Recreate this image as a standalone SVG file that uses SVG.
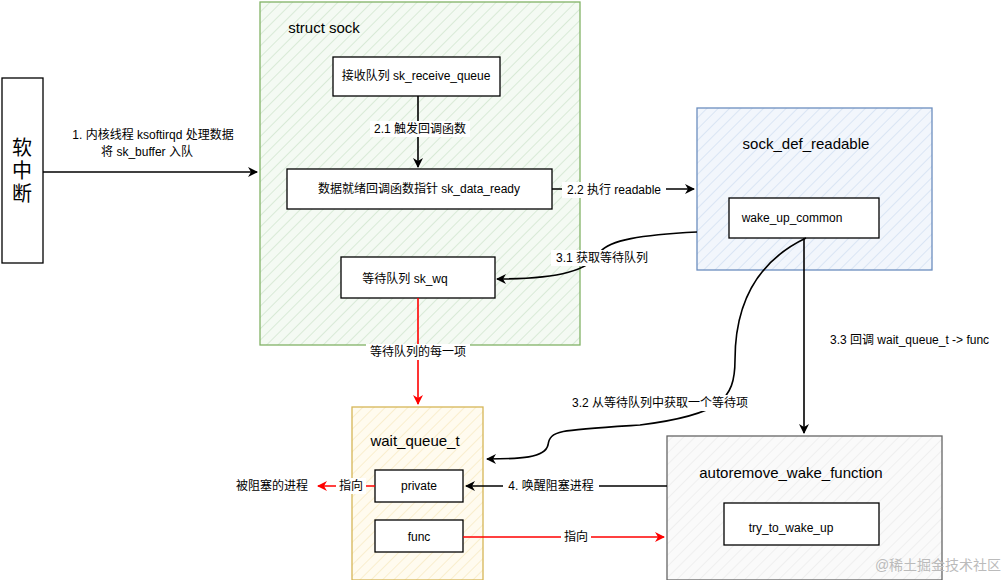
<svg xmlns="http://www.w3.org/2000/svg" width="1002" height="580" viewBox="0 0 1002 580">
<style>
text{font-family:"Liberation Sans","Noto Sans CJK SC",sans-serif;fill:#000;text-anchor:middle;dominant-baseline:central}
.s{font-size:12px}.t{font-size:15px}
.box{fill:#fff;stroke:#000;stroke-width:1.3}
.k{fill:none;stroke:#000;stroke-width:1.6}
.r{fill:none;stroke:#f00;stroke-width:1.6}
.lb{fill:#fff}
</style>
<defs>
<pattern id="hg" width="8" height="8" patternUnits="userSpaceOnUse" patternTransform="rotate(45)"><rect width="8" height="8" fill="#f4faf3"/><line x1="0" y1="0" x2="0" y2="8" stroke="#c8e0c4" stroke-width="1.2"/></pattern>
<pattern id="hb" width="8" height="8" patternUnits="userSpaceOnUse" patternTransform="rotate(45)"><rect width="8" height="8" fill="#f2f6fc"/><line x1="0" y1="0" x2="0" y2="8" stroke="#cbdaf0" stroke-width="1.2"/></pattern>
<pattern id="hy" width="8" height="8" patternUnits="userSpaceOnUse" patternTransform="rotate(45)"><rect width="8" height="8" fill="#fffbef"/><line x1="0" y1="0" x2="0" y2="8" stroke="#f5e6b8" stroke-width="1.2"/></pattern>
<pattern id="hw" width="8" height="8" patternUnits="userSpaceOnUse" patternTransform="rotate(45)"><rect width="8" height="8" fill="#fafafa"/><line x1="0" y1="0" x2="0" y2="8" stroke="#e8e8e8" stroke-width="1.2"/></pattern>
<marker id="ak" markerWidth="10" markerHeight="10" refX="9" refY="5" orient="auto" markerUnits="userSpaceOnUse"><path d="M0,0 L10,5 L0,10 L3,5 Z" fill="#000"/></marker>
<marker id="ar" markerWidth="10" markerHeight="10" refX="9" refY="5" orient="auto" markerUnits="userSpaceOnUse"><path d="M0,0 L10,5 L0,10 L3,5 Z" fill="#f00"/></marker>
</defs>
<rect width="1002" height="580" fill="#fff"/>
<g id="softirq"><rect class="box" x="2" y="78" width="41" height="185"/><text x="22" y="148" font-size="20">软</text><text x="22" y="171" font-size="20">中</text><text x="22" y="194" font-size="20">断</text></g>
<g id="struct_sock"><rect x="260" y="2" width="320" height="343" fill="url(#hg)" stroke="#82b366" stroke-width="1.3"/><text class="t" x="324" y="27">struct sock</text></g>
<g id="recv_queue"><rect class="box" x="333" y="57" width="167" height="39"/><text class="s" x="416" y="76">接收队列 sk_receive_queue</text></g>
<g id="data_ready"><rect class="box" x="287" y="169" width="265" height="40"/><text class="s" x="419" y="189">数据就绪回调函数指针 sk_data_ready</text></g>
<g id="sk_wq"><rect class="box" x="341" y="257" width="154" height="41"/><text class="s" x="405" y="279">等待队列 sk_wq</text></g>
<g id="sock_def_readable"><rect x="697" y="108" width="235" height="162" fill="url(#hb)" stroke="#6c8ebf" stroke-width="1.3"/><text class="t" x="806" y="143">sock_def_readable</text></g>
<g id="wake_up_common"><rect class="box" x="729" y="198" width="150" height="40"/><text class="s" x="792" y="218">wake_up_common</text></g>
<g id="wait_queue_t"><rect x="352" y="407" width="131" height="173" fill="url(#hy)" stroke="#d6b656" stroke-width="1.3"/><text class="t" x="415" y="440">wait_queue_t</text></g>
<g id="private"><rect class="box" x="375" y="470" width="88" height="32"/><text class="s" x="419" y="486">private</text></g>
<g id="func"><rect class="box" x="375" y="520" width="88" height="32"/><text class="s" x="419" y="537">func</text></g>
<g id="autoremove"><rect x="667" y="436" width="275" height="144" fill="url(#hw)" stroke="#666" stroke-width="1.3"/><text class="t" x="791" y="472">autoremove_wake_function</text></g>
<g id="try_to_wake_up"><rect class="box" x="724" y="503" width="155" height="42"/><text class="s" x="791" y="528">try_to_wake_up</text></g>
<g id="blocked"><text class="s" x="272" y="486">被阻塞的进程</text></g>
<g id="connectors">
<path class="k" d="M43,172 H257" marker-end="url(#ak)"/>
<text class="s" x="153" y="135">1. 内核线程 ksoftirqd 处理数据</text><text class="s" x="147" y="152">将 sk_buffer 入队</text>
<path class="k" d="M418,96 V167" marker-end="url(#ak)"/>
<rect class="lb" x="370" y="121" width="100" height="16"/><text class="s" x="420" y="129">2.1 触发回调函数</text>
<path class="k" d="M552,189 H694" marker-end="url(#ak)"/>
<rect class="lb" x="562" y="182" width="104" height="16"/><text class="s" x="614" y="190">2.2 执行 readable</text>
<path class="k" d="M697,232 C640,235 610,240 600,252 C590,270 560,279 497,279" marker-end="url(#ak)"/>
<rect class="lb" x="551" y="250" width="102" height="16"/><text class="s" x="602" y="258">3.1 获取等待队列</text>
<path class="r" d="M418,298 V404" marker-end="url(#ar)"/>
<rect class="lb" x="366" y="344" width="104" height="16"/><text class="s" x="418" y="352">等待队列的每一项</text>
<path class="k" d="M806,238 C760,260 735,300 735,360 C735,400 720,415 640,425 C560,430 550,430 548,445 C545,458 520,459 487,459" marker-end="url(#ak)"/>
<rect class="lb" x="563" y="395" width="194" height="16"/><text class="s" x="660" y="403">3.2 从等待队列中获取一个等待项</text>
<path class="k" d="M804,238 V433" marker-end="url(#ak)"/>
<text class="s" x="830" y="340" style="text-anchor:start">3.3 回调 wait_queue_t -&gt; func</text>
<path class="k" d="M667,486 H466" marker-end="url(#ak)"/>
<rect class="lb" x="503" y="478" width="96" height="16"/><text class="s" x="551" y="486">4. 唤醒阻塞进程</text>
<path class="r" d="M375,486 H318" marker-end="url(#ar)"/>
<rect class="lb" x="336" y="478" width="30" height="16"/><text class="s" x="351" y="486">指向</text>
<path class="r" d="M463,537 H664" marker-end="url(#ar)"/>
<rect class="lb" x="561" y="529" width="30" height="16"/><text class="s" x="576" y="537">指向</text>
</g>
<text x="938" y="565" font-size="14" fill="#bbb" style="fill:#bbb">@稀土掘金技术社区</text>
</svg>
